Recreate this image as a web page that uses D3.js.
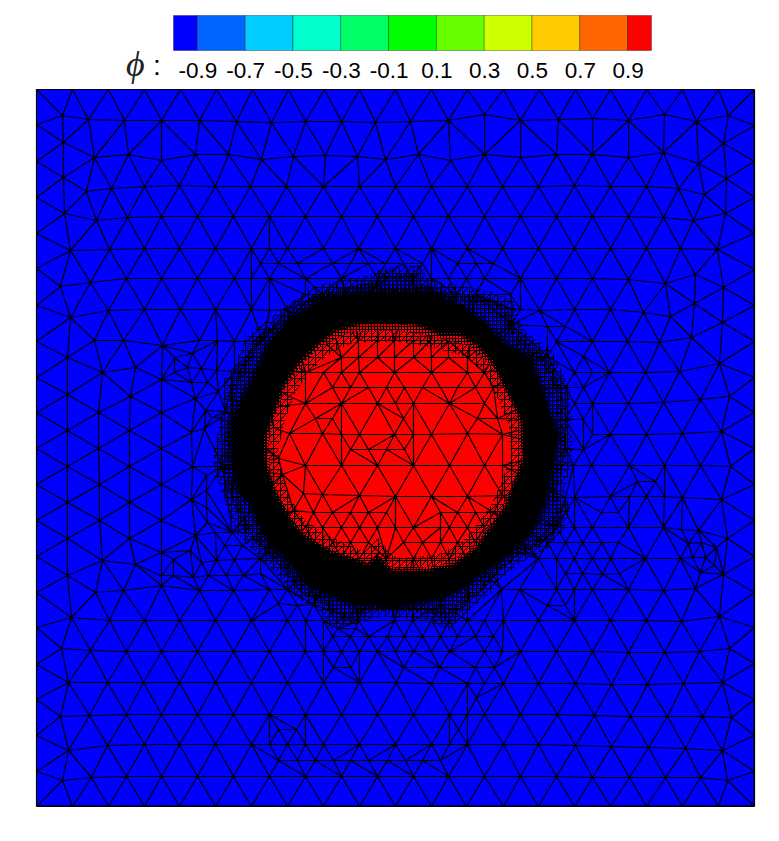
<!DOCTYPE html>
<html>
<head>
<meta charset="utf-8">
<title>phi mesh</title>
<script src="https://cdnjs.cloudflare.com/ajax/libs/d3/7.8.5/d3.min.js"></script>
<style>
  html, body { margin: 0; padding: 0; background: #fff; }
  svg { display: block; }
</style>
</head>
<body>
<div id="vis"></div>
<script>
// colour levels of phi
var levelEdges = [-0.9, -0.7, -0.5, -0.3, -0.1, 0.1, 0.3, 0.5, 0.7, 0.9];
var levelColors = ["#0000ff", "#0066ff", "#00ccff", "#00ffcc", "#00ff66", "#00ff00", "#66ff00", "#ccff00", "#ffcc00", "#ff6600", "#ff0000"];
var phiRange = [-1, 1];
var phiOutside = -1, phiInside = 1;

// mesh nodes, in picture units
var nodesBoundary = [[36,89],[72,89],[108,89],[144,89],[180,89],[216,89],[252,89],[288,89],[324,89],[359,89],[395,89],[431,89],[467,89],[503,89],[539,89],[575,89],[610,89],[646,89],[682,89],[718,89],[754,89],
  [36,124],[36,161],[36,197],[36,233],[36,268],[36,305],[36,341],[36,377],[36,412],[36,448],[36,484],[36,520],[36,556],[36,592],[36,627],[36,664],[36,699],[36,735],[36,771],[36,806],
  [754,125],[754,161],[754,197],[754,233],[754,269],[754,305],[754,341],[754,377],[754,412],[754,448],[754,484],[754,520],[754,556],[754,592],[754,627],[754,663],[754,699],[754,735],[754,771],[754,806],
  [72,806],[108,806],[144,806],[179,806],[215,806],[251,806],[287,806],[323,806],[359,806],[395,806],[431,806],[466,806],[503,806],[538,806],[574,806],[610,806],[646,806],[682,806],[718,806]];

var nodesTop = [[62,115],[88,119],[124,120],[161,120],[199,120],[236,121],[271,122],[305,121],[341,121],[375,122],[410,121],[448,120],[484,114],[520,120],[558,119],[592,118],[628,120],[664,114],[696,121],[728,115],
  [63,142],[94,157],[128,154],[161,160],[195,154],[228,154],[261,159],[293,156],[325,155],[357,156],[385,159],[418,154],[450,160],[484,154],[520,157],[556,154],[592,154],[628,157],[663,152],[698,163],[723,143],
  [63,177],[86,191],[111,188],[144,186],[179,185],[215,186],[250,186],[286,186],[323,186],[359,186],[395,186],[431,186],[467,186],[502,186],[538,186],[574,185],[610,186],[646,186],[678,188],[704,194],[726,178],
  [64,213],[96,220],[127,217],[161,216],[197,216],[233,216],[269,216],[305,216],[341,216],[377,216],[413,216],[448,216],[484,216],[520,216],[556,216],[592,216],[628,216],[663,217],[693,220],[725,213],
  [70,250],[109,249],[144,248],[179,248],[215,248],[251,248],[269,248],[287,248],[323,248],[358,248],[395,248],[431,248],[467,248],[502,248],[538,248],[574,248],[610,248],[646,248],[680,248],[717,249]];

var nodesUpperMid = [[60,286],[90,282],[126,278],[161,278],[197,278],[234,278],[251,278],[269,278],[305,278],[341,278],[377,278],[412,278],[431,278],[448,278],[466,278],[484,278],[520,278],[556,278],[592,278],[628,279],[665,283],[695,274],[723,287],
  [260,263],[278,263],[297,263],[332,263],[350,263],[368,263],[385,263],[403,263],[422,263],[457,263],[476,263],[493,263],
  [70,317],[108,310],[144,309],[180,309],[215,309],[251,309],[269,310],[287,309],[539,310],[574,309],[610,309],[643,312],[670,316],[694,303],[722,322],
  [305,294],[322,294],[457,294],[475,294],[510,294],[512,309],[520,309],[511,324],[547,326],[565,326],[691,337],
  [94,340],[123,340],[162,345],[199,340],[217,340],[234,341],[262,340],[556,341],[592,341],[627,341],[659,342]];

var nodesLeft = [[67,357],[102,372],[135,367],[161,379],[174,357],[192,353],[174,372],[187,367],[201,368],[216,370],[234,371],[191,382],[207,382],[67,394],[130,396],[195,398],[218,391],
  [98,412],[161,412],[205,410],[225,411],[212,417],[221,417],[67,430],[129,430],[191,432],[204,428],[98,448],[161,448],
  [67,466],[129,466],[192,466],[222,466],[206,475],[99,484],[161,484],[206,490],[67,502],[129,502],[191,499],[206,507],[99,520],[161,520],[207,522],[215,532],[232,532],
  [67,538],[129,538],[195,535],[224,545],[242,545],[102,560],[161,552],[190,550],[173,559],[201,562],[216,560],[234,559],[260,558],
  [67,575],[135,564],[161,575],[173,575],[193,577],[208,575],[226,575],[243,575],[260,573],[95,592],[123,590],[161,585],[199,590],[233,590],[269,589],[287,589],[278,603],[297,605],[313,604]];

var nodesRight = [[719,363],[547,356],[583,356],[574,372],[592,372],[609,372],[645,372],[679,371],[729,396],[700,399],[663,402],[628,403],[592,403],[574,403],[565,387],[583,387],[583,419],[565,419],
  [592,434],[610,434],[646,434],[682,433],[721,431],[583,449],[565,449],[573,465],[591,465],[629,465],[664,465],[700,465],[730,466],[637,481],[655,481],
  [610,496],[629,496],[646,496],[664,496],[682,497],[721,499],[574,497],[565,497],[618,512],[601,512],[565,512],[556,527],[574,527],[592,527],[628,527],[663,527],[681,529],[698,530],[727,538],
  [582,542],[601,542],[618,542],[547,542],[565,542],[688,543],[701,542],[716,547],[538,558],[556,558],[574,558],[592,558],[610,558],[645,558],[680,558],[692,557],[705,557],[714,565]];

var nodesLower = [[519,589],[556,589],[574,589],[592,589],[628,589],[663,590],[695,588],[723,574],[700,572],[602,574],[619,573],[565,573],[582,573],[501,589],[719,616],[547,605],[565,605],[440,604],
  [71,617],[109,620],[144,620],[179,620],[215,620],[251,620],[287,620],[305,620],[323,620],[358,620],[394,620],[412,620],[431,620],[449,620],[467,620],[484,620],[503,620],[538,620],[574,620],[610,620],[646,620],[681,621],
  [332,636],[350,636],[368,636],[387,636],[404,636],[422,636],[440,636],[457,636],[475,636],[493,636],[337,628],[355,628],
  [61,648],[90,650],[126,651],[161,651],[197,651],[233,651],[269,651],[305,651],[323,651],[341,651],[359,651],[377,651],[395,651],[413,651],[431,651],[449,651],[484,651],[502,651],[520,651],[556,651],[592,651],[628,652],[664,652],[699,651],[729,648],
  [333,667],[350,667],[403,667],[439,667],[475,667],[494,667],
  [68,682],[107,682],[143,682],[179,682],[215,682],[251,682],[287,682],[323,682],[359,682],[396,682],[431,683],[467,683],[484,683],[503,683],[538,683],[575,683],[611,684],[647,684],[683,683],[722,682],[476,697],
  [60,716],[89,715],[126,714],[161,714],[197,714],[233,714],[269,714],[305,714],[341,714],[377,714],[413,714],[449,714],[467,714],[484,714],[520,714],[557,714],[594,715],[630,716],[667,716],[702,716],[731,717],
  [278,729],[296,729],[458,729],
  [68,750],[107,745],[144,744],[179,744],[215,744],[251,744],[269,744],[287,744],[305,744],[323,744],[359,744],[395,744],[431,744],[449,744],[467,744],[503,744],[538,744],[575,745],[611,746],[648,747],[685,748],[722,750],
  [278,760],[297,760],[315,760],[333,760],[350,760],[368,760],[387,760],[405,760],[422,760],[440,760],
  [62,780],[91,777],[126,776],[161,776],[197,776],[233,776],[269,776],[305,776],[341,776],[377,776],[413,776],[448,776],[484,776],[520,776],[556,776],[592,777],[629,777],[665,777],[700,777],[727,780]];

var nodesInside = [[358,340],[377,340],[394,340],[413,340],[430,340],[448,340],
  [341,357],[358,357],[377,357],[394,357],[413,357],[431,357],[448,357],[467,357],
  [305,372],[323,372],[341,372],[359,372],[394,372],[431,372],[467,372],[484,372],
  [332,387],[350,387],[368,387],[386,387],[404,387],[422,387],[440,387],[457,387],[475,387],[493,387],
  [305,403],[341,403],[377,403],[395,403],[413,403],[449,403],[484,403],
  [315,418],[332,418],[403,418],[477,418],[497,418],
  [289,433],[322,433],[341,434],[359,434],[394,434],[413,434],[431,434],[467,433],[502,434],
  [350,449],[368,449],[386,449],[404,449],[278,458],
  [305,465],[341,465],[377,465],[413,465],[449,465],[484,465],[502,465],[282,474],
  [303,493],[322,494],[359,495],[395,496],[431,496],[467,496],[502,495],
  [293,510],[313,512],[332,512],[350,512],[368,512],[386,512],[440,512],[457,512],[475,512],[493,512],
  [305,527],[322,527],[341,527],[359,527],[377,527],[395,527],[413,527],[440,527],[449,527],[467,527],[484,527],
  [332,542],[350,542],[368,542],[403,542],[422,542],[440,542],[457,542],[475,542],
  [323,558],[341,558],[359,558],[386,558],[413,558],[431,558],[449,558],[467,558]];

// long runs of mesh edges seen in the picture: [yMin, yMax, xMin, xMax]
var rowRuns = [[113,123,60,730],[152,161,94,664],[184,195,86,706],[215,221,96,695],[247,250,109,718],[277,284,90,666],
  [309,311,108,300],[309,317,512,671],[340,345,94,262],[341,342,556,660],[371,372,574,680],[399,403,574,700],[431,434,592,722],[465,466,573,730],[496,499,610,721],[527,530,556,698],
  [558,560,201,260],[557,558,538,705],[585,592,95,287],[588,590,501,695],[617,621,71,681],[636,636,332,493],[648,652,61,729],[682,684,68,722],[714,717,60,731],[744,750,68,722],[760,760,278,440],[776,780,62,727],
  [357,357,341,467],[372,372,305,484],[387,387,332,493],[403,403,305,484],[433,434,289,502],[465,465,305,502],[493,496,303,502],[510,512,293,386],[512,512,440,493],[527,527,305,484],[558,558,323,467]];
// same for columns: [xMin, xMax, yMin, yMax]
var columnRuns = [[161,162,345,552],[67,67,357,575],[98,102,372,560],[129,135,367,564],[191,195,398,535]];

// outlines of the refined band round the drop
var fringeOutline = [[373,282],[383,275],[417,273],[422,284],[453,292],[490,298],[508,306],[512,323],[522,338],[547,357],[563,390],[564,430],[566,447],[563,467],[557,490],[563,510],[557,527],[543,543],[520,555],[500,570],[483,590],[467,603],[447,622],[430,613],[380,609],[347,620],[335,622],[325,605],[300,592],[280,567],[243,530],[227,487],[220,463],[222,447],[230,410],[230,383],[240,370],[253,340],[283,317],[313,295],[327,290]];
var bandOuter = [[373,292],[413,292],[440,296],[462,307],[482,322],[502,342],[530,357],[540,387],[550,417],[558,437],[552,463],[547,490],[543,507],[530,533],[515,547],[503,558],[480,574],[463,588],[440,597],[410,604],[390,606],[350,603],[337,597],[313,589],[303,578],[287,560],[270,543],[260,527],[252,503],[238,490],[232,460],[231,430],[243,400],[257,373],[270,343],[293,320],[320,300],[345,296]];
var bandInner = [[360,322],[393,322],[417,323],[440,333],[460,333],[477,343],[493,360],[507,387],[523,420],[525,460],[513,490],[507,507],[493,527],[477,550],[453,567],[420,573],[393,573],[385,567],[377,558],[368,567],[353,560],[330,553],[303,537],[287,517],[273,490],[265,467],[263,440],[273,410],[283,383],[297,363],[313,347],[333,330]];
var dropCore = [[350,332],[395,330],[440,338],[470,346],[494,368],[508,395],[520,425],[522,458],[510,490],[501,510],[487,530],[468,552],[440,566],[400,569],[386,565],[377,554],[368,563],[345,556],[318,543],[297,528],[283,508],[272,482],[267,450],[274,418],[285,388],[300,366],[320,347]];

var width = 779, height = 841;
var frame = {left: 36, right: 754, top: 89, bottom: 806};

var svg = d3.select("#vis").append("svg").attr("width", width).attr("height", height);

var x = d3.scaleLinear().domain([36, 754]).range([frame.left, frame.right]);
var y = d3.scaleLinear().domain([89, 806]).range([frame.top, frame.bottom]);
var color = d3.scaleThreshold().domain(levelEdges).range(levelColors);

var defs = svg.append("defs");

function add_net(id, size) {
  var p = defs.append("pattern").attr("id", id).attr("patternUnits", "userSpaceOnUse").attr("width", size).attr("height", size);
  p.append("path")
    .attr("d", "M0,0.5H" + size + "M0.5,0V" + size + "M0," + size + "L" + size + ",0")
    .attr("stroke", "#000").attr("stroke-width", 1).attr("fill", "none");
}

function add_dots(id, size, dot, fill) {
  var p = defs.append("pattern").attr("id", id).attr("patternUnits", "userSpaceOnUse").attr("width", size).attr("height", size);
  p.append("rect").attr("width", size).attr("height", size).attr("fill", "#000");
  p.append("rect").attr("width", dot).attr("height", dot).attr("fill", fill);
}

// the finest cells are too small to read one by one, so they are a texture
add_net("net7", 7);
add_net("net4", 4);
add_net("redNet", 7);
add_dots("dither", 3, 2, color(phiInside));
add_dots("ditherDark", 3, 1, color(phiInside));

function outline(points) {
  return d3.line().x(function(d) { return x(d[0]); }).y(function(d) { return y(d[1]); }).curve(d3.curveLinearClosed)(points);
}

function orient(a, b, c) {
  return (b[0] - a[0]) * (c[1] - a[1]) - (b[1] - a[1]) * (c[0] - a[0]);
}

function crosses(a, b, c, d) {
  return orient(a, b, c) * orient(a, b, d) < 0 && orient(c, d, a) * orient(c, d, b) < 0;
}

function draw_colorbar() {
  var bar = d3.scaleLinear().domain(phiRange).range([173.5, 651.5]);
  var edges = [phiRange[0]].concat(levelEdges, [phiRange[1]]);
  var g = svg.append("g");
  g.selectAll("rect").data(d3.pairs(edges)).enter().append("rect")
    .attr("x", function(d) { return bar(d[0]); })
    .attr("y", 15.5)
    .attr("width", function(d) { return bar(d[1]) - bar(d[0]); })
    .attr("height", 35)
    .attr("fill", function(d) { return color((d[0] + d[1]) / 2); })
    .attr("stroke", "#000")
    .attr("stroke-opacity", 0.4)
    .attr("stroke-width", 0.8);

  var axis = d3.axisBottom(bar).tickValues(levelEdges).tickSize(0).tickFormat(function(d) { return d3.format(".1f")(d).replace("\u2212", "-"); });
  var ag = svg.append("g").attr("transform", "translate(0,58)").call(axis);
  ag.select(".domain").remove();
  ag.selectAll("text").attr("dy", 0).attr("y", 20).attr("fill", "#000").style("font-family", "'Liberation Sans'").style("font-size", "22.5px");

  svg.append("text").attr("x", 126).attr("y", 76).attr("fill", "#222").style("font-family", "'Liberation Serif'").style("font-style", "italic").style("font-size", "36px").text("\u03d5");
  svg.append("text").attr("x", 153).attr("y", 75).style("font-family", "'Liberation Sans'").style("font-size", "28px").text(":");
}

function draw_mesh() {
  var nodes = [].concat(nodesBoundary, nodesTop, nodesUpperMid, nodesLeft, nodesRight, nodesLower, nodesInside);
  var delaunay = d3.Delaunay.from(nodes, function(d) { return x(d[0]); }, function(d) { return y(d[1]); });

  svg.append("rect").attr("x", frame.left).attr("y", frame.top)
    .attr("width", frame.right - frame.left).attr("height", frame.bottom - frame.top)
    .attr("fill", color(phiOutside));

  svg.append("path").attr("d", outline(dropCore)).attr("fill", color(phiInside));

  // polylines for the long runs; diagonals that cut through them are dropped
  var runs = [];
  rowRuns.forEach(function(r) {
    var run = nodes.filter(function(n) { return n[1] >= r[0] && n[1] <= r[1] && n[0] >= r[2] && n[0] <= r[3]; });
    runs.push(run.sort(function(a, b) { return a[0] - b[0]; }));
  });
  columnRuns.forEach(function(r) {
    var run = nodes.filter(function(n) { return n[0] >= r[0] && n[0] <= r[1] && n[1] >= r[2] && n[1] <= r[3]; });
    runs.push(run.sort(function(a, b) { return a[1] - b[1]; }));
  });
  var segments = [];
  runs.forEach(function(run) { segments = segments.concat(d3.pairs(run)); });

  var edges = [];
  var half = delaunay.halfedges, tri = delaunay.triangles;
  for (var i = 0; i < half.length; i++) {
    if (i < half[i] || half[i] < 0) {
      var a = nodes[tri[i]], b = nodes[tri[i % 3 === 2 ? i - 2 : i + 1]];
      var cut = segments.some(function(s) { return crosses(a, b, s[0], s[1]); });
      if (!cut) edges.push([a, b]);
    }
  }
  edges = edges.concat(segments);

  var p = d3.path();
  edges.forEach(function(e) {
    p.moveTo(x(e[0][0]), y(e[0][1]));
    p.lineTo(x(e[1][0]), y(e[1][1]));
  });
  svg.append("path").attr("d", p.toString()).attr("transform", "translate(0.5,0.5)").attr("fill", "none").attr("stroke", "#000").attr("stroke-width", 1.2);
}

function draw_band() {
  svg.append("path").attr("d", outline(fringeOutline)).attr("fill", "none").attr("stroke", "url(#net7)").attr("stroke-width", 14);
  svg.append("path").attr("d", outline(fringeOutline) + outline(bandOuter)).attr("fill-rule", "evenodd").attr("fill", "url(#net4)");
  svg.append("path").attr("d", outline(dropCore)).attr("fill", "none").attr("stroke", "url(#redNet)").attr("stroke-width", 22);
  svg.append("path").attr("d", outline(bandInner) + outline(dropCore)).attr("fill-rule", "evenodd").attr("fill", "url(#dither)");
  svg.append("path").attr("d", outline(bandOuter)).attr("fill", "none").attr("stroke", "#000").attr("stroke-width", 10).attr("stroke-dasharray", "1 3");
  svg.append("path").attr("d", outline(bandOuter)).attr("fill", "none").attr("stroke", "#000").attr("stroke-width", 5).attr("stroke-dasharray", "2 1");
  svg.append("path").attr("d", outline(bandInner)).attr("fill", "none").attr("stroke", "url(#ditherDark)").attr("stroke-width", 5);
  svg.append("path").attr("d", outline(bandOuter) + outline(bandInner)).attr("fill-rule", "evenodd").attr("fill", "#000");
}

draw_colorbar();
draw_mesh();
draw_band();

svg.append("rect").attr("x", frame.left + 0.5).attr("y", frame.top + 0.5)
  .attr("width", frame.right - frame.left - 1).attr("height", frame.bottom - frame.top - 1)
  .attr("fill", "none").attr("stroke", "#000").attr("stroke-opacity", 0.6).attr("stroke-width", 1);
</script>
</body>
</html>
